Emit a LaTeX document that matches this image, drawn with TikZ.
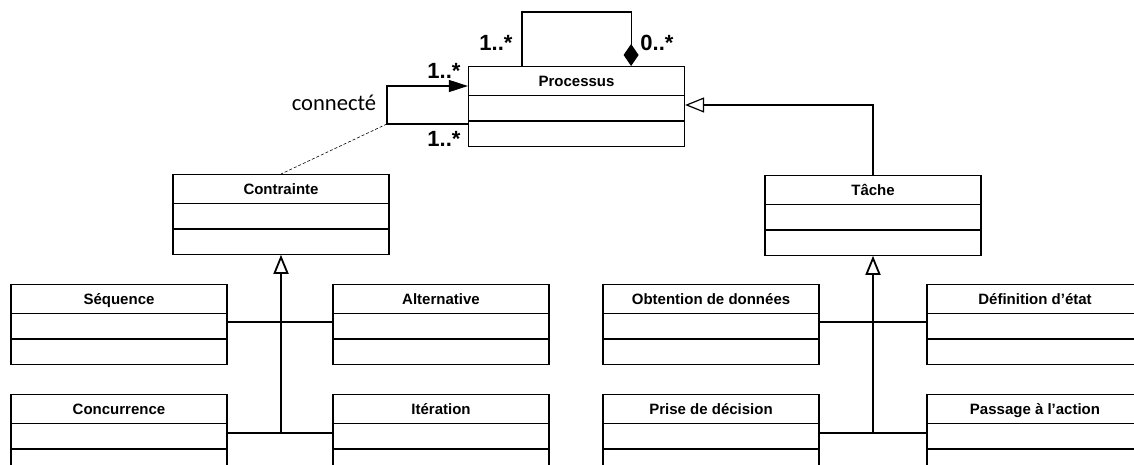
\documentclass[tikz,border=0pt]{standalone}
\usepackage{fontspec}
\setmainfont{Liberation Sans}
\newfontfamily\calib{Carlito}
\usetikzlibrary{arrows.meta,calc,shapes.multipart}
\newcommand{\nomcl}[1]{\rule[-9pt]{0pt}{28pt}#1}

\begin{document}
\begin{tikzpicture}[
    x=1pt, y=-1pt,
    line width=1.2pt,
    cls/.style={rectangle split, rectangle split parts=3, draw, anchor=north,
      minimum width=216pt, inner xsep=2pt, inner ysep=0pt,
      rectangle split empty part height=24pt, rectangle split empty part depth=0pt,
      font=\fontsize{15pt}{18pt}\selectfont\bfseries},
    mult/.style={font=\fontsize{22pt}{26pt}\selectfont\bfseries, inner sep=0pt},
    gen/.style={-{Triangle[open,length=19pt,width=15pt]}},
    >=Stealth
  ]
  \useasboundingbox (0,0) rectangle (1134,465);
  \clip (0,0) rectangle (1134,465);

  % Classe principale
  \node[cls] (proc) at (576.5,66) {\nomcl{Processus}};

  % Composition reflexive
  \draw[{Diamond[length=22pt,width=15pt]}-] ($(proc.north east)+(-54,0)$)
    -- ++(0,-54) -| ($(proc.north west)+(54,0)$);
  \node[mult] (m1) at (496,43) {1..*};
  \node[mult] (m2) at (657,43) {0..*};

  % Association connecte
  \draw[-{Triangle[length=19pt,width=12pt]}] ($(proc.north west)+(0,58)$)
    -- ++(-81,0) coordinate (cx) |- ($(proc.north west)+(0,20)$);
  \node[mult] (m3) at (444,71) {1..*};
  \node[mult] (m4) at (444,139) {1..*};
  \node[font=\calib\fontsize{22.6pt}{26pt}\selectfont] (lc) at (334,103) {connecté};

  % Contraintes
  \node[cls] (cont) at (281,174) {\nomcl{Contrainte}};
  \draw[dash pattern=on 3pt off 2pt, line width=0.6pt] (cx) -- (cont.north);

  \node[cls] (seq) at (119,284) {\nomcl{Séquence}};
  \node[cls] (alt) at (441,284) {\nomcl{Alternative}};
  \node[cls] (conc) at (119,394) {\nomcl{Concurrence}};
  \node[cls] (iter) at (441,394) {\nomcl{Itération}};

  \coordinate (ja) at ($(seq.north east)+(0,38)$);
  \coordinate (jb) at ($(conc.north east)+(0,39)$);
  \draw (ja) -- (ja -| alt.west);
  \draw (jb) -- (jb -| iter.west);
  \draw[gen, line width=1.8pt] (cont.south |- jb) -- (cont.south);

  % Taches
  \node[cls] (tache) at (873,175) {\nomcl{Tâche}};
  \draw[gen] (tache.north) |- ($(proc.north east)+(0,39)$);

  \node[cls] (obt) at (711,284) {\nomcl{Obtention de données}};
  \node[cls] (def) at (1035,284) {\nomcl{Définition d’état}};
  \node[cls] (pris) at (711,394) {\nomcl{Prise de décision}};
  \node[cls] (pass) at (1035,394) {\nomcl{Passage à l’action}};

  \coordinate (jc) at ($(obt.north east)+(0,38)$);
  \coordinate (jd) at ($(pris.north east)+(0,39)$);
  \draw (jc) -- (jc -| def.west);
  \draw (jd) -- (jd -| pass.west);
  \draw[gen, line width=1.8pt] (tache.south |- jd) -- (tache.south);

\end{tikzpicture}
\end{document}
